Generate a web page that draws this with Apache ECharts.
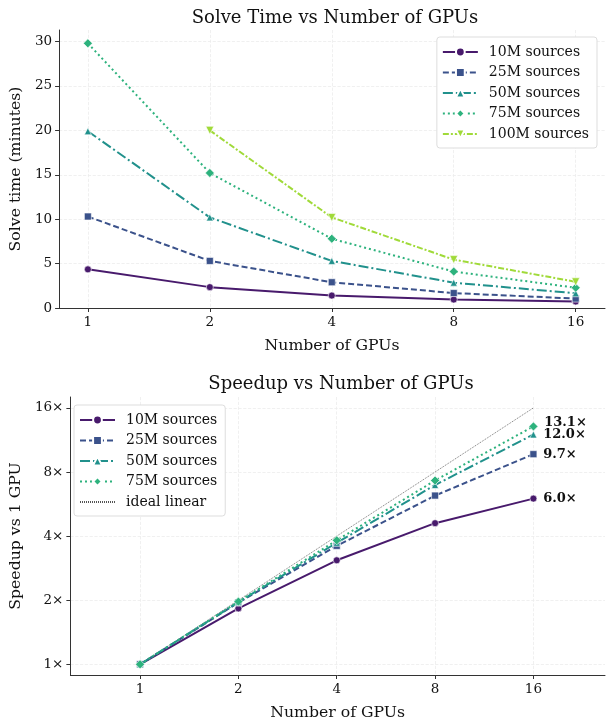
<!DOCTYPE html>
<html>
<head>
<meta charset="utf-8">
<script src="https://cdn.jsdelivr.net/npm/echarts@6/dist/echarts.min.js"></script>
<style>
  html, body { margin: 0; padding: 0; background: #fff; }
  #main { width: 612px; height: 722px; }
</style>
</head>
<body>
<div id="main"></div>
<script>
// number of GPUs (x axis of both panels)
const gpus = [1, 2, 4, 8, 16]

// solve time in minutes
const time10M = [4.35, 2.35, 1.40, 0.95, 0.73]
const time25M = [10.3, 5.3, 2.9, 1.68, 1.06]
const time50M = [19.9, 10.2, 5.3, 2.85, 1.66]
const time75M = [29.8, 15.2, 7.8, 4.1, 2.28]
const time100M = [null, 20.0, 10.2, 5.45, 2.95] // no run on 1 GPU

// speedup vs 1 GPU, bottom panel
const speed10M = [1, 1.83, 3.08, 4.6, 6.0]
const speed25M = [1, 1.95, 3.6, 6.2, 9.7]
const speed50M = [1, 1.96, 3.72, 6.95, 12.0]
const speed75M = [1, 1.97, 3.82, 7.3, 13.1]
const idealLinear = [1, 2, 4, 8, 16]

// tick labels
const timeTicks = [0, 5, 10, 15, 20, 25, 30]
const speedTicks = [1, 2, 4, 8, 16]

const names = ['10M sources', '25M sources', '50M sources', '75M sources', '100M sources']
const colors = ['#481a6c', '#3b528b', '#21918c', '#2db27d', '#a0da39']
const dashes = ['solid', [6, 3], [10, 3, 2, 3], [2, 3], [6, 2, 2, 2]]
const symbols = ['circle', 'rect', 'triangle', 'diamond', 'path://M0,0 L10,0 L5,10 Z']
const symbolSizes = [7, 7, 7, 9, 8]

const FONT = 'DejaVu Serif'
const AXIS_COLOR = '#333'
const GRID_LINE = { show: true, lineStyle: { color: '#ececec', type: 'dashed', width: 0.8 } }

function pairs (arr) {
  return gpus.map((g, i) => [g, arr[i]]).filter(p => p[1] != null)
}

// one line series, k picks the style
function makeLine (k, values, xi, withLabel) {
  const data = pairs(values).map((p, i, all) => {
    if (withLabel && i === all.length - 1) {
      return {
        value: p,
        label: {
          show: true,
          position: 'right',
          distance: 6,
          offset: k === 3 ? [0, -4] : [0, 0],
          formatter: d => d.value[1].toFixed(1) + '×',
          fontFamily: FONT,
          fontWeight: 'bold',
          fontSize: 13,
          color: '#111'
        }
      }
    }
    return p
  })
  return {
    name: names[k],
    type: 'line',
    xAxisIndex: xi,
    yAxisIndex: xi,
    data: data,
    symbol: symbols[k],
    symbolSize: symbolSizes[k],
    color: colors[k],
    lineStyle: { width: 2, type: dashes[k], color: colors[k] },
    itemStyle: { color: colors[k], borderColor: '#fff', borderWidth: 0.6 },
    emphasis: { disabled: true },
    animation: false,
    z: 3 + k
  }
}

const xAxisCommon = {
  type: 'log',
  logBase: 2,
  name: 'Number of GPUs',
  nameLocation: 'middle',
  nameGap: 30,
  nameTextStyle: { fontFamily: FONT, fontSize: 15.7, color: '#111' },
  axisLine: { lineStyle: { color: AXIS_COLOR, width: 1 } },
  axisTick: { show: true, length: 4, lineStyle: { color: AXIS_COLOR }, customValues: gpus },
  axisLabel: {
    fontFamily: FONT, fontSize: 13.5, color: '#111', margin: 7,
    customValues: gpus,
    formatter: v => String(Math.round(v))
  },
  splitLine: GRID_LINE,
  minorTick: { show: false }
}

const chart = echarts.init(document.getElementById('main'))

const series = []
series.push(makeLine(0, time10M, 0, false))
series.push(makeLine(1, time25M, 0, false))
series.push(makeLine(2, time50M, 0, false))
series.push(makeLine(3, time75M, 0, false))
series.push(makeLine(4, time100M, 0, false))
series.push(makeLine(0, speed10M, 1, true))
series.push(makeLine(1, speed25M, 1, true))
series.push(makeLine(2, speed50M, 1, true))
series.push(makeLine(3, speed75M, 1, true))
series.push({
  name: 'ideal linear',
  type: 'line',
  xAxisIndex: 1,
  yAxisIndex: 1,
  data: pairs(idealLinear),
  symbol: 'none',
  color: '#555',
  lineStyle: { width: 0.8, type: [1, 1], color: '#555' },
  emphasis: { disabled: true },
  animation: false,
  z: 2
})

const legendCommon = {
  orient: 'vertical',
  itemWidth: 35,
  itemHeight: 11,
  itemGap: 4.5,
  padding: [7, 8, 6, 5],
  backgroundColor: '#fff',
  borderColor: '#ddd',
  borderWidth: 1,
  borderRadius: 3,
  textStyle: { fontFamily: FONT, fontSize: 14, lineHeight: 16, color: '#111', padding: [0, 0, 0, 6] }
}

const option = {
  animation: false,
  backgroundColor: '#fff',
  title: [
    {
      text: 'Solve Time vs Number of GPUs',
      left: 330, top: 4, textAlign: 'center',
      textStyle: { fontFamily: FONT, fontSize: 18, fontWeight: 'normal', color: '#111' }
    },
    {
      text: 'Speedup vs Number of GPUs',
      left: 336, top: 370, textAlign: 'center',
      textStyle: { fontFamily: FONT, fontSize: 18, fontWeight: 'normal', color: '#111' }
    }
  ],
  legend: [
    Object.assign({}, legendCommon, {
      right: 15, top: 37,
      data: names
    }),
    Object.assign({}, legendCommon, {
      left: 74, top: 405,
      data: names.slice(0, 4).concat([{ name: 'ideal linear', itemStyle: { opacity: 0 } }])
    })
  ],
  grid: [
    { left: 55, right: 7, top: 30, height: 278 },
    { left: 68, right: 7, top: 397, height: 278 }
  ],
  xAxis: [
    Object.assign({}, xAxisCommon, { gridIndex: 0, min: 0.849, max: 18.9 }),
    Object.assign({}, xAxisCommon, { gridIndex: 1, min: 0.612, max: 26.5 })
  ],
  yAxis: [
    {
      gridIndex: 0,
      type: 'value',
      min: 0,
      max: 31.3,
      name: 'Solve time (minutes)',
      nameLocation: 'middle',
      nameGap: 31,
      nameTextStyle: { fontFamily: FONT, fontSize: 15.7, color: '#111' },
      axisLine: { show: true, lineStyle: { color: AXIS_COLOR } },
      axisTick: { show: true, length: 4, lineStyle: { color: AXIS_COLOR }, customValues: timeTicks },
      axisLabel: {
        fontFamily: FONT, fontSize: 13.5, color: '#111', margin: 7,
        customValues: timeTicks
      },
      splitLine: GRID_LINE
    },
    {
      gridIndex: 1,
      type: 'log',
      logBase: 2,
      min: 0.891,
      max: 18.0,
      name: 'Speedup vs 1 GPU',
      nameLocation: 'middle',
      nameGap: 44,
      nameTextStyle: { fontFamily: FONT, fontSize: 15.7, color: '#111' },
      axisLine: { show: true, lineStyle: { color: AXIS_COLOR } },
      axisTick: { show: true, length: 4, lineStyle: { color: AXIS_COLOR }, customValues: speedTicks },
      axisLabel: {
        fontFamily: FONT, fontSize: 13.5, color: '#111', margin: 7,
        customValues: speedTicks,
        formatter: v => Math.round(v) + '×'
      },
      splitLine: GRID_LINE,
      minorTick: { show: false }
    }
  ],
  series: series
}

chart.setOption(option)
</script>
</body>
</html>
